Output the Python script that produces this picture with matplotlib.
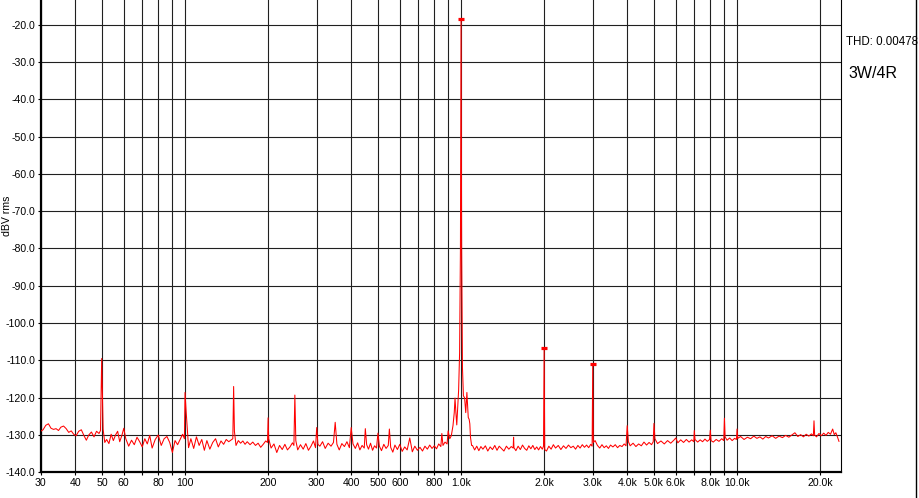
import numpy as np
import matplotlib
matplotlib.use('Agg')
import matplotlib.pyplot as plt
import matplotlib.ticker as mticker
from matplotlib.lines import Line2D

plt.rcParams['font.family'] = ['Liberation Sans', 'DejaVu Sans']
plt.rcParams['axes.unicode_minus'] = False

# spectrum trace (Hz, dBV rms)
freq = [
    # 30 - 50 Hz
    30, 30.6, 31.3, 32, 32.7, 33.4, 34.1, 34.8, 35.5, 36.3, 37.1, 37.9, 38.7, 39.5,
    40.3, 41.2, 42.1, 43, 43.9, 44.8, 45.8, 46.8, 47.8, 48.8, 49.4, 49.9, 50.5, 51.2,
    # 50 - 100 Hz
    52, 53, 54, 55, 56, 57, 58, 59, 60, 61, 62.5, 64, 65.5, 67, 68.5, 70, 71.5, 73,
    74.5, 76, 78, 80, 82, 84, 86, 88, 90, 92, 94, 96, 98, 99.5, 100, 101,
    # 100 - 200 Hz
    103, 105, 107.5, 110, 112.5, 115, 117.5, 120, 123, 126, 129, 132, 135, 138, 141,
    144, 147, 149, 150, 151, 153, 156, 159, 162, 165, 168, 172, 176, 180, 184, 188,
    192, 196, 199, 200, 201,
    # 200 - 300 Hz
    205, 210, 215, 220, 225, 230, 235, 240, 245, 248, 250, 252, 256, 262, 268, 274,
    280, 286, 292, 297, 300, 303,
    # 300 Hz - 900 Hz
    308, 315, 322, 330, 338, 345, 350, 355, 362, 370, 378, 386, 394, 400, 406, 414,
    422, 430, 438, 446, 450, 455, 462, 470, 478, 486, 494, 500, 506, 515, 525, 535,
    545, 550, 556, 566, 576, 588, 600, 612, 625, 638, 652, 666, 680, 695, 710, 725,
    740, 755, 770, 785, 800, 815, 830, 845, 852, 860, 875, 890, 898,
    # skirt around the 1 kHz tone
    910, 922, 935, 945, 951, 958, 965, 972, 980, 988, 995, 1000, 1005, 1012, 1020,
    1030, 1040, 1050, 1062, 1070, 1076, 1082, 1092,
    # 1.1k - 2k
    1100, 1120, 1140, 1160, 1180, 1200, 1225, 1250, 1275, 1300, 1325, 1350, 1375,
    1400, 1430, 1460, 1490, 1520, 1545, 1550, 1555, 1580, 1610, 1640, 1670, 1700,
    1730, 1760, 1790, 1820, 1850, 1880, 1910, 1940, 1970, 1990, 2000, 2010,
    # 2k - 3k
    2040, 2080, 2120, 2160, 2200, 2250, 2300, 2350, 2400, 2450, 2500, 2550, 2600,
    2650, 2700, 2750, 2800, 2850, 2900, 2950, 2985, 3000, 3015,
    # 3k - 4k
    3060, 3120, 3180, 3240, 3300, 3360, 3420, 3480, 3550, 3620, 3690, 3760, 3830,
    3900, 3960, 4000, 4040,
    # 4k - 10k
    4100, 4200, 4300, 4400, 4500, 4600, 4700, 4800, 4900, 4970, 5000, 5040, 5150,
    5300, 5450, 5600, 5750, 5900, 6000, 6100, 6250, 6400, 6550, 6700, 6850, 6970,
    7000, 7040, 7200, 7350, 7500, 7650, 7800, 7950, 8000, 8050, 8200, 8400, 8600,
    8800, 8950, 9000, 9050, 9200, 9400, 9600, 9800, 9950, 10000, 10060,
    # 10k - end
    10300, 10600, 10900, 11200, 11500, 11800, 12100, 12400, 12700, 13000, 13400,
    13800, 14200, 14600, 15000, 15400, 15800, 16200, 16600, 17000, 17400, 17800,
    18200, 18600, 18900, 19000, 19100, 19400, 19800, 20200, 20600, 21000, 21400,
    21800, 22200, 22500, 22800, 23100, 23400,
]
level = [
    -129.0, -128.6, -127.4, -127.0, -128.2, -128.5, -128.3, -128.8, -127.9, -127.6,
    -128.3, -129.3, -128.9, -129.8, -130.2, -129.0, -128.6, -130.1, -131.4, -130.0,
    -129.2, -130.5, -129.0, -129.6, -128.8, -109.5, -128.5, -132.0,
    -131.2, -132.3, -129.8, -131.5, -130.0, -129.0, -131.8, -130.2, -128.2, -131.0,
    -133.0, -131.4, -132.6, -130.6, -131.8, -133.2, -131.0, -132.4, -130.1, -133.5,
    -131.2, -130.0, -132.8, -131.0, -130.4, -132.0, -134.7, -131.5, -132.6, -131.2,
    -129.8, -131.0, -118.6, -124.0,
    -133.4, -131.0, -133.6, -130.5, -132.8, -131.2, -134.1, -131.5, -133.8, -132.0,
    -131.0, -133.2, -131.6, -132.5, -131.2, -131.8, -131.3, -131.0, -117.0, -129.0,
    -132.8, -131.5, -132.2, -131.6, -132.5, -131.8, -132.6, -131.9, -132.8, -132.2,
    -133.3, -132.5, -131.6, -132.0, -125.4, -131.0,
    -133.5, -132.4, -134.7, -132.8, -133.9, -132.5, -134.0, -133.2, -132.1, -132.8,
    -119.3, -131.5, -134.0, -132.6, -133.8, -132.3, -134.1, -133.0, -131.6, -133.4,
    -128.0, -132.5,
    -133.0, -131.8, -133.6, -132.2, -133.0, -132.0, -126.6, -132.5, -134.0, -132.3,
    -133.1, -131.8, -133.4, -128.0, -132.4, -133.6, -132.1, -134.0, -132.8, -133.5,
    -128.3, -132.6, -133.8, -132.2, -134.1, -132.9, -133.5, -129.5, -133.0, -134.2,
    -132.5, -133.6, -132.8, -128.4, -133.3, -134.6, -132.7, -133.9, -132.5, -134.4,
    -133.2, -134.0, -130.8, -134.5, -133.0, -134.1, -133.3, -134.3, -133.0, -133.8,
    -132.7, -133.6, -132.9, -133.7, -132.4, -133.1, -129.6, -132.8, -131.9, -132.4,
    -128.9,
    -131.0, -130.2, -127.5, -124.0, -120.1, -124.0, -127.3, -123.0, -118.0, -108.0,
    -80.0, -18.6, -80.0, -112.0, -119.5, -120.0, -124.0, -118.6, -125.3, -125.8,
    -127.0, -130.6, -132.8,
    -132.8, -134.0, -133.0, -134.2, -133.1, -133.8, -132.9, -134.3, -133.2, -133.9,
    -132.8, -134.1, -133.0, -133.6, -134.3, -133.0, -133.8, -133.1, -133.5, -130.6,
    -133.4, -134.2, -133.0, -133.9, -132.7, -133.6, -134.1, -132.9, -133.7, -132.8,
    -133.9, -133.2, -134.0, -133.1, -133.8, -133.0, -106.8, -133.9,
    -134.3, -133.0, -133.8, -132.6, -133.5, -132.8, -133.9, -132.9, -133.6, -132.7,
    -133.4, -133.0, -133.8, -132.8, -133.5, -132.6, -133.3, -132.7, -133.4, -132.5,
    -133.0, -111.0, -132.0,
    -131.5, -132.8, -133.5, -132.6, -133.4, -132.9, -133.6, -132.7, -133.2, -132.6,
    -133.4, -132.8, -133.1, -132.4, -132.9, -127.5, -131.8,
    -132.9, -132.2, -133.1, -132.4, -132.9, -131.9, -132.7, -132.0, -132.6, -131.8,
    -126.9, -131.0, -132.3, -131.6, -132.4, -131.5, -132.2, -131.4, -130.8, -132.1,
    -131.3, -132.0, -131.2, -131.9, -131.3, -131.8, -128.8, -131.2, -131.9, -131.3,
    -131.8, -131.1, -131.7, -131.2, -128.7, -131.5, -131.9, -131.2, -131.7, -131.0,
    -131.5, -125.5, -130.5, -131.4, -130.8, -131.5, -130.9, -131.2, -128.4, -130.9,
    -130.4, -131.2, -130.6, -131.0, -130.3, -130.9, -130.5, -131.1, -130.4, -130.8,
    -130.2, -130.9, -130.3, -130.7, -130.1, -130.6, -130.0, -129.4, -130.4, -129.9,
    -130.5, -129.8, -130.3, -129.7, -130.2, -126.2, -130.0, -130.5, -129.6, -130.2,
    -129.5, -130.1, -129.3, -129.8, -128.4, -129.9, -129.4, -130.5, -131.7,
]

# marked harmonic peaks
peak_freq = [1000, 2000, 3000]
peak_level = [-18.6, -106.8, -111.0]

x_ticks = [30, 40, 50, 60, 80, 100, 200, 300, 400, 500, 600, 800,
           1000, 2000, 3000, 4000, 5000, 6000, 8000, 10000, 20000]
x_tick_labels = ['30', '40', '50', '60', '80', '100', '200', '300', '400', '500',
                 '600', '800', '1.0k', '2.0k', '3.0k', '4.0k', '5.0k', '6.0k',
                 '8.0k', '10.0k', '20.0k']
x_grid = [30, 40, 50, 60, 70, 80, 90, 100, 200, 300, 400, 500, 600, 700, 800, 900,
          1000, 2000, 3000, 4000, 5000, 6000, 7000, 8000, 9000, 10000, 20000]
y_ticks = [-140, -130, -120, -110, -100, -90, -80, -70, -60, -50, -40, -30, -20]

W, H = 919, 498
fig = plt.figure(figsize=(W / 100, H / 100), dpi=100)
fig.patch.set_facecolor('white')
ax = fig.add_axes([40.7 / W, 1 - 472.3 / H, (841 - 40.7) / W, 472.3 / H])

ax.set_xscale('log')
ax.set_xlim(30, 23800)
ax.set_ylim(-140, -13.4)

ax.plot(freq, level, color='#ff0000', lw=0.75, zorder=3)
ax.plot(peak_freq, peak_level, ls='', marker='_', color='#ff0000',
        markersize=4.6, mew=2.3, zorder=4)

ax.xaxis.set_major_locator(mticker.FixedLocator(x_grid))
labels = {f: l for f, l in zip(x_ticks, x_tick_labels)}
ax.xaxis.set_major_formatter(mticker.FixedFormatter([labels.get(f, '') for f in x_grid]))
ax.xaxis.set_minor_locator(mticker.NullLocator())
ax.set_yticks(y_ticks)
ax.set_yticklabels(['%.1f' % v for v in y_ticks])

ax.grid(True, which='major', color='#202020', lw=0.8)
ax.tick_params(axis='both', length=2.5, width=0.8, pad=1.5, labelsize=7.6,
               color='black', labelcolor='black')

ax.spines['top'].set_visible(False)
ax.spines['left'].set_linewidth(1.6)
ax.spines['bottom'].set_linewidth(1.6)
ax.spines['right'].set_linewidth(0.8)

fig.text(7 / W, 1 - 216 / H, 'dBV rms', rotation=90, ha='center', va='center',
         fontsize=7.6)
fig.text(846 / W, 1 - 42 / H, 'THD: 0.00478', ha='left', va='center', fontsize=8.3)
fig.text(848 / W, 1 - 74 / H, '3W/4R', ha='left', va='center', fontsize=11.5)

# window frame on the right edge
fig.add_artist(Line2D([915.5 / W, 915.5 / W], [0, 1], color='black', lw=1,
                      transform=fig.transFigure))

fig.savefig('out.png', dpi=100)
